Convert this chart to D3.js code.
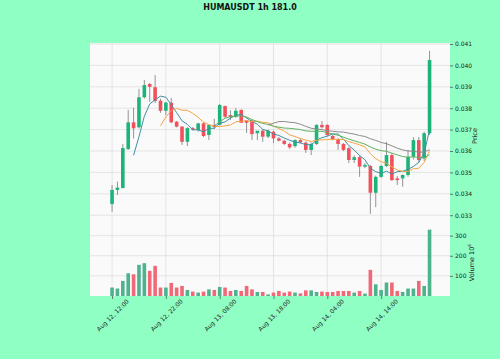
<!DOCTYPE html>
<html>
<head>
<meta charset="utf-8">
<script src="https://cdn.jsdelivr.net/npm/d3@7"></script>
<style>
body { margin: 0; background: #8fffc4; }
svg { display: block; }
text { font-family: "DejaVu Sans", sans-serif; }
</style>
</head>
<body>
<div id="chart"></div>
<script>
// HUMAUSDT 1h candles, Aug 12 12:00 -> Aug 14 23:00
var opens  = [0.03352,0.03418,0.03427,0.03609,0.03734,0.03711,0.03851,0.03913,0.03898,0.03835,
              0.03788,0.03826,0.03737,0.03714,0.03643,0.03707,0.03698,0.03729,0.03675,0.03722,
              0.03722,0.03810,0.03768,0.03760,0.03792,0.03742,0.03742,0.03683,0.03695,0.03667,
              0.03690,0.03659,0.03648,0.03633,0.03623,0.03651,0.03639,0.03605,0.03633,0.03722,
              0.03722,0.03670,0.03655,0.03633,0.03613,0.03558,0.03571,0.03527,0.03530,0.03405,
              0.03479,0.03530,0.03581,0.03472,0.03472,0.03488,0.03573,0.03651,0.03566,0.03683]
var highs  = [0.03441,0.03457,0.03633,0.03792,0.03802,0.03890,0.03932,0.03918,0.03955,0.03845,
              0.03830,0.03848,0.03740,0.03716,0.03712,0.03712,0.03732,0.03735,0.03722,0.03750,
              0.03820,0.03812,0.03790,0.03801,0.03795,0.03745,0.03745,0.03690,0.03700,0.03700,
              0.03695,0.03665,0.03652,0.03640,0.03655,0.03660,0.03645,0.03640,0.03725,0.03740,
              0.03725,0.03675,0.03660,0.03637,0.03620,0.03580,0.03580,0.03545,0.03535,0.03485,
              0.03535,0.03643,0.03590,0.03483,0.03490,0.03605,0.03665,0.03665,0.03690,0.04068]
var lows   = [0.03316,0.03394,0.03425,0.03605,0.03659,0.03705,0.03845,0.03830,0.03824,0.03778,
              0.03768,0.03730,0.03710,0.03628,0.03623,0.03695,0.03690,0.03665,0.03651,0.03703,
              0.03720,0.03755,0.03745,0.03755,0.03732,0.03684,0.03651,0.03651,0.03643,0.03660,
              0.03637,0.03645,0.03628,0.03610,0.03615,0.03635,0.03591,0.03581,0.03628,0.03705,
              0.03670,0.03650,0.03605,0.03600,0.03544,0.03544,0.03479,0.03520,0.03306,0.03338,
              0.03475,0.03525,0.03460,0.03441,0.03433,0.03480,0.03560,0.03545,0.03553,0.03675]
var closes = [0.03418,0.03429,0.03614,0.03734,0.03706,0.03851,0.03908,0.03900,0.03834,0.03788,
              0.03826,0.03734,0.03714,0.03643,0.03707,0.03700,0.03729,0.03670,0.03722,0.03712,
              0.03815,0.03760,0.03759,0.03788,0.03732,0.03732,0.03679,0.03695,0.03667,0.03695,
              0.03659,0.03648,0.03633,0.03617,0.03651,0.03641,0.03605,0.03633,0.03722,0.03711,
              0.03675,0.03656,0.03633,0.03605,0.03558,0.03571,0.03527,0.03535,0.03405,0.03479,
              0.03530,0.03581,0.03464,0.03464,0.03488,0.03573,0.03651,0.03558,0.03683,0.04025]
// volume in units of 10^6
var volumes = [42,37,75,113,108,155,163,125,150,42,
               42,65,42,50,30,22,17,22,33,30,
               45,42,25,30,25,50,33,20,20,8,
               17,25,17,22,17,13,28,28,20,22,
               20,20,25,25,25,17,25,12,130,58,
               30,67,67,25,20,37,37,75,50,330]

var mavWindows = [5, 10, 20, 30]
var mavColors = ["#3f8ea6", "#f5a445", "#5fb35f", "#8c8c8c"]

var tickIdx = [0, 10, 20, 30, 40, 50]
var tickLabels = ["Aug 12, 12:00", "Aug 12, 22:00", "Aug 13, 08:00", "Aug 13, 18:00", "Aug 14, 04:00", "Aug 14, 14:00"]
var priceTicks = [0.033, 0.034, 0.035, 0.036, 0.037, 0.038, 0.039, 0.040, 0.041]
var volTicks = [100, 200, 300]

var width = 500, height = 359
var plotL = 90, plotR = 450, plotT = 43, plotSplit = 225, plotB = 296

var upColor = "#1db47a", downColor = "#f2505c"
var upVol = "#4cb38d", downVol = "#f06976"

var svg = d3.select("#chart").append("svg")
    .attr("width", width)
    .attr("height", height)

svg.append("rect").attr("width", width).attr("height", height).attr("fill", "#8fffc4")

var x = d3.scaleLinear().domain([-4.1, 62.8]).range([plotL, plotR])
var y = d3.scaleLinear().domain([0.032542, 0.041047]).range([plotSplit, plotT])
var yv = d3.scaleLinear().domain([0, 353]).range([plotB, plotSplit])

// panel backgrounds
svg.append("rect").attr("x", plotL).attr("y", plotT).attr("width", plotR - plotL).attr("height", plotB - plotT)
    .attr("fill", "#fafafa")

// grid
var grid = svg.append("g").attr("stroke", "#dedede").attr("stroke-width", 0.8)
grid.selectAll(".vg").data(tickIdx).enter().append("line")
    .attr("x1", d => x(d)).attr("x2", d => x(d)).attr("y1", plotT).attr("y2", plotB)
grid.selectAll(".hg").data(priceTicks).enter().append("line")
    .attr("x1", plotL).attr("x2", plotR).attr("y1", d => y(d)).attr("y2", d => y(d))
grid.selectAll(".vhg").data(volTicks).enter().append("line")
    .attr("x1", plotL).attr("x2", plotR).attr("y1", d => yv(d)).attr("y2", d => yv(d))

var idx = d3.range(closes.length)
var bw = 3.6

// volume
svg.append("g").selectAll("rect").data(idx).enter().append("rect")
    .attr("x", i => x(i) - bw / 2)
    .attr("width", bw)
    .attr("y", i => yv(volumes[i]))
    .attr("height", i => yv(0) - yv(volumes[i]))
    .attr("fill", i => closes[i] >= opens[i] ? upVol : downVol)

// wicks
svg.append("g").selectAll("line").data(idx).enter().append("line")
    .attr("x1", i => x(i)).attr("x2", i => x(i))
    .attr("y1", i => y(highs[i])).attr("y2", i => y(lows[i]))
    .attr("stroke", "#7a7a7a").attr("stroke-width", 0.8)

// bodies
svg.append("g").selectAll("rect").data(idx).enter().append("rect")
    .attr("x", i => x(i) - bw / 2)
    .attr("width", bw)
    .attr("y", i => y(Math.max(opens[i], closes[i])))
    .attr("height", i => Math.max(0.9, Math.abs(y(opens[i]) - y(closes[i]))))
    .attr("fill", i => closes[i] >= opens[i] ? upColor : downColor)

// moving averages
mavWindows.forEach(function(w, k) {
    var pts = []
    for (var i = w - 1; i < closes.length; i++) {
        pts.push([i, d3.mean(closes.slice(i - w + 1, i + 1))])
    }
    svg.append("path").datum(pts)
        .attr("fill", "none")
        .attr("stroke", mavColors[k])
        .attr("stroke-width", 1)
        .attr("d", d3.line().x(d => x(d[0])).y(d => y(d[1])))
})

// right axes
var ax = svg.append("g").attr("transform", "translate(" + plotR + ",0)")
    .call(d3.axisRight(y).tickValues(priceTicks).tickFormat(d3.format(".3f")).tickSize(3).tickPadding(2))
var axv = svg.append("g").attr("transform", "translate(" + plotR + ",0)")
    .call(d3.axisRight(yv).tickValues(volTicks).tickSize(3).tickPadding(2))
var axx = svg.append("g").attr("transform", "translate(0," + plotB + ")")
    .call(d3.axisBottom(x).tickValues(tickIdx).tickFormat((d, i) => tickLabels[i]).tickSize(3))

;[ax, axv, axx].forEach(function(g) {
    g.select(".domain").remove()
    g.selectAll(".tick line").attr("stroke", "#555").attr("stroke-width", 0.8)
    g.selectAll("text").attr("fill", "#222").attr("font-size", 6).style("font-family", "DejaVu Sans")
})

axx.selectAll("text")
    .attr("y", null).attr("dy", null)
    .attr("text-anchor", "middle")
    .attr("dominant-baseline", "central")
    .attr("transform", "translate(0,19) rotate(-45)")

svg.append("text")
    .attr("transform", "translate(477," + ((plotT + plotSplit) / 2 + 2) + ") rotate(-90)")
    .attr("text-anchor", "middle")
    .attr("font-size", 6.5).attr("fill", "#222")
    .text("Price")

var vl = svg.append("text")
    .attr("transform", "translate(474," + ((plotSplit + plotB) / 2 + 2) + ") rotate(-90)")
    .attr("text-anchor", "middle")
    .attr("font-size", 6.5).attr("fill", "#222")
vl.append("tspan").text("Volume  10")
vl.append("tspan").attr("font-size", 4.5).attr("dy", -3).text("6")

svg.append("text")
    .attr("x", 250).attr("y", 9.5)
    .attr("text-anchor", "middle")
    .attr("font-size", 8).attr("font-weight", "bold").attr("fill", "#111")
    .text("HUMAUSDT 1h 181.0")
</script>
</body>
</html>
